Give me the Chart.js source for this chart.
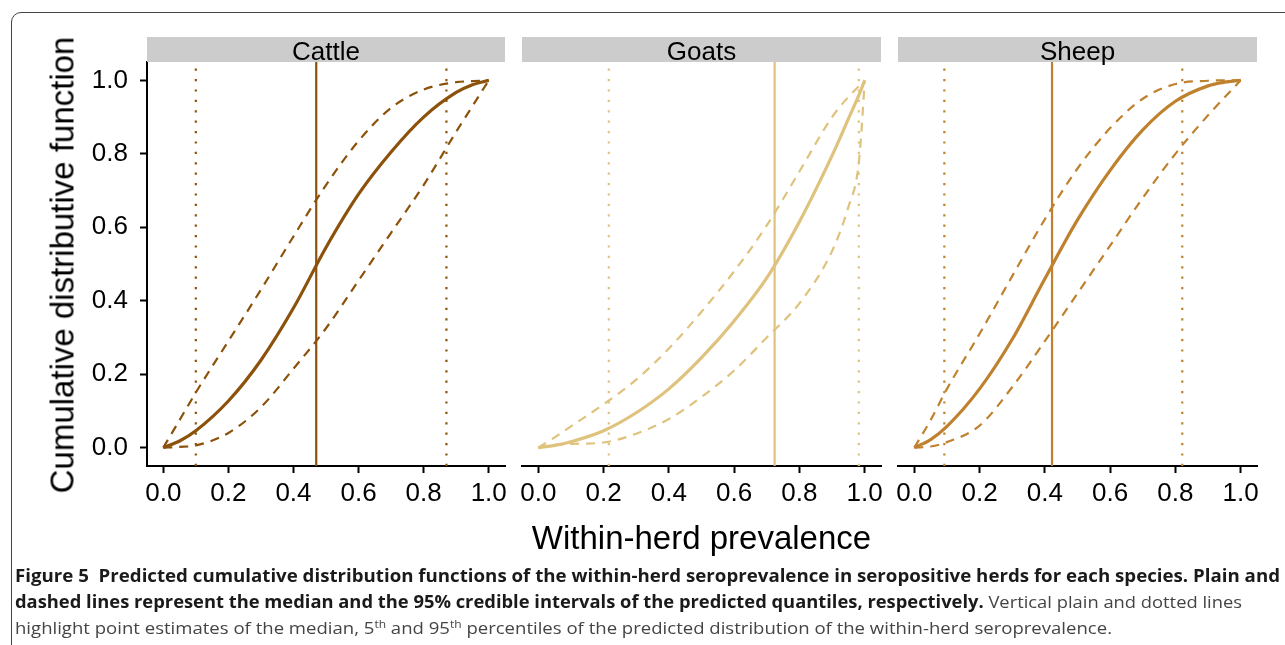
<!DOCTYPE html>
<html>
<head>
<meta charset="utf-8">
<script src="https://cdn.jsdelivr.net/npm/chart.js@4.4.1/dist/chart.umd.min.js"></script>
<style>
  html, body { margin: 0; padding: 0; background: #fff; }
  body { width: 1285px; height: 645px; overflow: hidden; position: relative; font-family: "Liberation Sans", Arial, sans-serif; }
  canvas { position: absolute; left: 0; top: 0; }
  .frame { position: absolute; left: 11px; top: 12px; width: 1320px; height: 720px; border: 1px solid #444; border-radius: 10px; box-sizing: border-box; }
  .strip { position: absolute; top: 37px; height: 25px; background: #cccccc; }
  .lab { position: absolute; white-space: nowrap; color: #000; line-height: 1; }
  .cap { position: absolute; left: 15px; white-space: nowrap; font-family: "Open Sans", "Noto Sans", sans-serif; font-size: 17px; line-height: 26px; height: 26px; transform-origin: 0 50%; }
  .cap b { font-weight: 700; color: #1a1a1a; }
  .cap .r { color: #444; }
  .cap sup { font-size: 11px; line-height: 0; vertical-align: 6px; }
</style>
</head>
<body>
<div class="frame"></div>

<canvas id="c0" width="1285" height="645"></canvas>
<canvas id="c1" width="1285" height="645"></canvas>
<canvas id="c2" width="1285" height="645"></canvas>

<div id="strips"></div>

<div class="lab" id="ytitle" style="font-size:33px;left:61.5px;top:265px;transform:translate(-50%,-50%) rotate(-90deg);">Cumulative distributive function</div>
<div class="lab" id="xtitle" style="font-size:33px;left:701.5px;top:537px;transform:translate(-50%,-50%);">Within-herd prevalence</div>

<div class="cap" data-w="1265" style="top:563px;"><b>Figure 5&nbsp;&nbsp;Predicted cumulative distribution functions of the within-herd seroprevalence in seropositive herds for each species. Plain and</b></div>
<div class="cap" data-w="1227" style="top:589px;"><b>dashed lines represent the median and the 95% credible intervals of the predicted quantiles, respectively.</b><span class="r"> Vertical plain and dotted lines</span></div>
<div class="cap" data-w="1097" style="top:615px;"><span class="r">highlight point estimates of the median, 5<sup>th</sup> and 95<sup>th</sup> percentiles of the predicted distribution of the within-herd seroprevalence.</span></div>

<script>
// ---------------- DATA ----------------
const xTickValues = [0, 0.2, 0.4, 0.6, 0.8, 1.0];
const yTickValues = [0, 0.2, 0.4, 0.6, 0.8, 1.0];
const species = ['Cattle', 'Goats', 'Sheep'];

// Cattle: predicted CDF (median, upper and lower 95% CrI of quantiles)
const cattleX      = [0, 0.05, 0.1, 0.2, 0.3, 0.4, 0.5, 0.6, 0.7, 0.8, 0.9, 0.95, 1.0];
const cattleMedian = [0, 0.018, 0.046, 0.127, 0.238, 0.38, 0.545, 0.69, 0.805, 0.9, 0.967, 0.988, 1.0];
const cattleUpper  = [0, 0.075, 0.15, 0.29, 0.43, 0.575, 0.715, 0.835, 0.925, 0.975, 0.995, 0.998, 1.0];
const cattleLower  = [0, 0.002, 0.006, 0.04, 0.11, 0.215, 0.325, 0.455, 0.585, 0.715, 0.86, 0.93, 1.0];
const cattlePercentiles = [0.10, 0.87];   // 5th, 95th
const cattleMedianPoint = 0.47;

// Goats
const goatsX      = [0, 0.05, 0.1, 0.2, 0.3, 0.4, 0.5, 0.6, 0.7, 0.8, 0.9, 0.95, 0.98, 0.99, 1.0];
const goatsMedian = [0, 0.006, 0.016, 0.046, 0.095, 0.16, 0.245, 0.345, 0.462, 0.615, 0.795, 0.895, 0.955, 0.977, 1.0];
const goatsUpper  = [0, 0.028, 0.058, 0.118, 0.185, 0.27, 0.37, 0.48, 0.605, 0.752, 0.9, 0.955, 0.982, 0.991, 1.0];
const goatsLower  = [0, 0.007, 0.01, 0.014, 0.038, 0.078, 0.138, 0.21, 0.3, 0.393, 0.535, 0.655, 0.76, 0.86, 1.0];
const goatsPercentiles = [0.216, 0.982];
const goatsMedianPoint = 0.724;

// Sheep
const sheepX      = [0, 0.05, 0.1, 0.2, 0.3, 0.4, 0.5, 0.6, 0.7, 0.8, 0.9, 0.95, 1.0];
const sheepMedian = [0, 0.022, 0.058, 0.16, 0.295, 0.46, 0.62, 0.755, 0.865, 0.943, 0.985, 0.995, 1.0];
const sheepUpper  = [0, 0.075, 0.16, 0.31, 0.467, 0.622, 0.76, 0.87, 0.95, 0.99, 0.999, 1.0, 1.0];
const sheepLower  = [0, 0.003, 0.015, 0.06, 0.165, 0.29, 0.42, 0.55, 0.68, 0.8, 0.905, 0.953, 1.0];
const sheepPercentiles = [0.092, 0.821];
const sheepMedianPoint = 0.422;

// ---------------- STYLE / LAYOUT ----------------
const speciesColors = ['#8c510a', '#dfc27d', '#bf812d'];
const panelBounds = [[147, 505], [522, 881], [898, 1257]];
const PLOT_TOP = 62, PLOT_BOTTOM = 466, W = 1285, H = 645;
const tickFont = { family: "'Liberation Sans', Arial, sans-serif", size: 26 };

const panelData = [
  { x: cattleX, med: cattleMedian, up: cattleUpper, lo: cattleLower, pct: cattlePercentiles, mp: cattleMedianPoint },
  { x: goatsX,  med: goatsMedian,  up: goatsUpper,  lo: goatsLower,  pct: goatsPercentiles,  mp: goatsMedianPoint },
  { x: sheepX,  med: sheepMedian,  up: sheepUpper,  lo: sheepLower,  pct: sheepPercentiles,  mp: sheepMedianPoint }
];

const zip = (xs, ys) => xs.map((x, i) => ({ x: x, y: ys[i] }));
const vline = v => [{ x: v, y: -0.05 }, { x: v, y: 1.05 }];

function makePanel(idx) {
  const d = panelData[idx];
  const col = speciesColors[idx];
  const [L, R] = panelBounds[idx];
  const showY = idx === 0;

  const curve = (data, width, dash) => ({
    data: data, borderColor: col, borderWidth: width, borderDash: dash,
    pointRadius: 0, cubicInterpolationMode: 'monotone', fill: false
  });
  const straight = (data, width, dash) => ({
    data: data, borderColor: col, borderWidth: width, borderDash: dash,
    pointRadius: 0, tension: 0, fill: false
  });

  const datasets = [
    straight(vline(d.pct[0]), 2.2, [2.2, 8.2]),
    straight(vline(d.pct[1]), 2.2, [2.2, 8.2]),
    straight(vline(d.mp), 2.2, []),
    curve(zip(d.x, d.up), 2.2, [9, 7]),
    curve(zip(d.x, d.lo), 2.2, [9, 7]),
    curve(zip(d.x, d.med), 3.2, [])
  ];

  new Chart(document.getElementById('c' + idx), {
    type: 'line',
    data: { datasets: datasets },
    options: {
      responsive: false,
      animation: false,
      devicePixelRatio: 1,
      layout: { padding: { left: showY ? 0 : L, right: W - R, top: PLOT_TOP, bottom: 0 } },
      plugins: { legend: { display: false }, tooltip: { enabled: false } },
      scales: {
        x: {
          type: 'linear', min: -0.05, max: 1.05,
          border: { display: true, color: '#000', width: 2 },
          grid: { display: true, drawOnChartArea: false, drawTicks: true, tickLength: 7, tickWidth: 2, tickColor: '#000' },
          ticks: { color: '#000', font: tickFont, padding: 5, autoSkip: false, maxRotation: 0,
                   callback: v => Number(v).toFixed(1) },
          afterBuildTicks: s => { s.ticks = xTickValues.map(v => ({ value: v })); },
          afterFit: s => { s.height = H - PLOT_BOTTOM; s.paddingLeft = 0; s.paddingRight = 0; }
        },
        y: {
          type: 'linear', min: -0.05, max: 1.05, display: showY,
          border: { display: true, color: '#000', width: 2 },
          grid: { display: true, drawOnChartArea: false, drawTicks: true, tickLength: 7, tickWidth: 2, tickColor: '#000' },
          ticks: { color: '#000', font: tickFont, padding: 12, autoSkip: false,
                   callback: v => Number(v).toFixed(1) },
          afterBuildTicks: s => { s.ticks = yTickValues.map(v => ({ value: v })); },
          afterFit: s => { if (showY) { s.width = L; } s.paddingTop = 0; s.paddingBottom = 0; }
        }
      }
    }
  });
}

[0, 1, 2].forEach(makePanel);

// facet strips
const stripHost = document.getElementById('strips');
species.forEach((name, i) => {
  const [L, R] = panelBounds[i];
  const s = document.createElement('div');
  s.className = 'strip';
  s.style.left = L + 'px';
  s.style.width = (R - L) + 'px';
  stripHost.appendChild(s);
  const t = document.createElement('div');
  t.className = 'lab';
  t.textContent = name;
  t.style.fontSize = '26px';
  t.style.left = ((L + R) / 2) + 'px';
  t.style.top = '51px';
  t.style.transform = 'translate(-50%,-50%)';
  document.body.appendChild(t);
});

// fit caption lines to their widths
document.querySelectorAll('.cap').forEach(el => {
  const target = parseFloat(el.dataset.w);
  const nat = el.getBoundingClientRect().width;
  if (nat > 0) el.style.transform = 'scaleX(' + (target / nat) + ')';
});
</script>
</body>
</html>
